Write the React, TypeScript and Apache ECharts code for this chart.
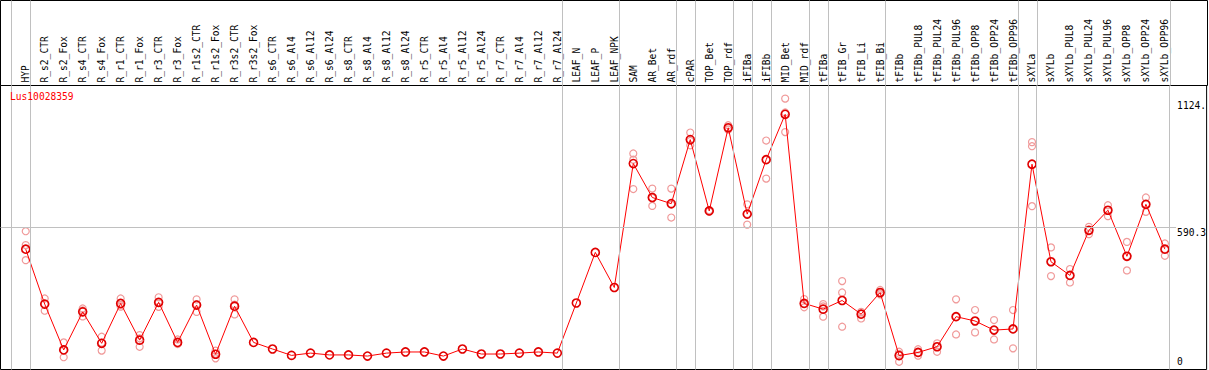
import React, { useEffect, useRef } from "react";
import * as echarts from "echarts";

const geneName = "Lus10028359";

const categories = [
  "HYP",
  "R_s2_CTR", "R_s2_Fox", "R_s4_CTR", "R_s4_Fox", "R_r1_CTR", "R_r1_Fox", "R_r3_CTR", "R_r3_Fox",
  "R_r1s2_CTR", "R_r1s2_Fox", "R_r3s2_CTR", "R_r3s2_Fox",
  "R_s6_CTR", "R_s6_Al4", "R_s6_Al12", "R_s6_Al24",
  "R_s8_CTR", "R_s8_Al4", "R_s8_Al12", "R_s8_Al24",
  "R_r5_CTR", "R_r5_Al4", "R_r5_Al12", "R_r5_Al24",
  "R_r7_CTR", "R_r7_Al4", "R_r7_Al12", "R_r7_Al24",
  "LEAF_N", "LEAF_P", "LEAF_NPK",
  "SAM", "AR_Bet", "AR_rdf", "cPAR", "TOP_Bet", "TOP_rdf", "iFIBa", "iFIBb", "MID_Bet", "MID_rdf",
  "tFIBa", "tFIB_Gr", "tFIB_Li", "tFIB_Bi",
  "tFIBb", "tFIBb_PUL8", "tFIBb_PUL24", "tFIBb_PUL96", "tFIBb_OPP8", "tFIBb_OPP24", "tFIBb_OPP96",
  "sXYLa", "sXYLb", "sXYLb_PUL8", "sXYLb_PUL24", "sXYLb_PUL96", "sXYLb_OPP8", "sXYLb_OPP24", "sXYLb_OPP96",
];

const means = [
  495,
  254, 53, 220, 82, 257, 96, 262, 86,
  250, 34, 245, 86,
  57, 29, 39, 31,
  31, 26, 39, 44,
  44, 26, 57, 35,
  35, 39, 44, 39,
  259, 481, 327,
  871, 722, 695, 976, 663, 1028, 649, 888, 1087, 257,
  232, 270, 210, 305,
  28, 42, 67, 199, 180, 140, 145,
  868, 440, 380, 578, 666, 464, 692, 495,
];

const rep1 = [
  574,
  279, 86, 235, 111, 279, 118, 284, 99,
  275, 50, 275, null,
  null, null, null, null,
  null, null, null, null,
  null, null, null, null,
  null, null, null, null,
  null, null, null,
  915, 761, 761, 1007, 666, 1039, 692, 972, 1156, 276,
  254, 355, 220, 316,
  45, 56, 82, 275, 228, 184, 228,
  965, 503, 408, 593, 688, 527, 722, 520,
];

const rep2 = [
  447,
  225, 21, 200, 50, 243, 67, 242, 79,
  220, 16, 209, null,
  null, null, null, null,
  null, null, null, null,
  null, null, null, null,
  null, null, null, null,
  null, null, null,
  759, 685, 634, 951, 660, 1020, 603, 805, 1009, 240,
  199, 155, 191, 297,
  1, 28, 45, 121, 130, 99, 60,
  684, 377, 349, 561, 640, 402, 659, 466,
];

const rep3 = [
  513,
  255, 52, 226, 85, 250, 104, 259, 81,
  254, 36, 252, null,
  null, null, null, null,
  null, null, null, null,
  null, null, null, null,
  null, null, null, null,
  null, null, null,
  888, 720, 690, 970, 663, 1026, 650, 888, 1095, 256,
  244, 305, 212, 302,
  36, 42, 67, 199, 180, 140, 145,
  947, 440, 380, 578, 666, 464, 692, 495,
];

// index of last category of each group (separator drawn just after it)
const groupEnds = [-1, 0, 28, 31, 34, 35, 37, 38, 39, 41, 42, 45, 52, 53, 60];

const yTickValues = [0, 590.3, 1124];
const yTickLabels = ["0", "590.3", "1124."];
const midLineValue = 590.3;

const FONT = "'DejaVu Sans Mono', 'Liberation Mono', monospace";
const FS = 9.6;
const X_MIN = -1.32895;
const X_MAX = 62.19737;
const Y_MIN = -32.92;
const Y_MAX = 1213.5;
const MID_LINE_END = 60.59;

export default function App() {
  const ref = useRef<HTMLDivElement>(null);

  useEffect(() => {
    if (!ref.current) return;
    const chart = echarts.init(ref.current, undefined, { renderer: "svg" });

    const repData: number[][] = [];
    [rep1, rep2, rep3].forEach((arr) => {
      arr.forEach((v, i) => {
        if (v !== null && v !== undefined) repData.push([i, v as number]);
      });
    });
    const meanData = means.map((v, i) => [i, v]);

    const markLineBase = {
      silent: true,
      symbol: ["none", "none"],
      label: { show: false },
      emphasis: { disabled: true },
      animation: false,
      lineStyle: { color: "#c0c0c0", width: 1, type: "solid" },
    };

    const option: any = {
      animation: false,
      title: {
        text: geneName,
        left: 10,
        top: 91,
        padding: 0,
        textStyle: { color: "#ff0000", fontSize: FS, fontFamily: FONT, fontWeight: "normal" },
      },
      grid: [
        { left: 0.5, right: 1.5, top: 85.5, bottom: 0.5, show: true, borderColor: "#000", borderWidth: 1, backgroundColor: "transparent" },
        { left: 0.5, right: 1.5, top: 0.5, height: 85, show: true, borderColor: "#000", borderWidth: 1, backgroundColor: "transparent" },
      ],
      xAxis: [
        {
          type: "value",
          gridIndex: 0,
          min: X_MIN,
          max: X_MAX,
          position: "top",
          axisLine: { show: false },
          axisTick: { show: false },
          splitLine: { show: false },
          axisLabel: {
            customValues: categories.map((_, i) => i),
            formatter: (v: number) => categories[Math.round(v)] ?? "",
            rotate: 90,
            margin: 3,
            fontFamily: FONT,
            fontSize: FS,
            color: "#000",
            hideOverlap: false,
          },
        },
        { type: "value", gridIndex: 1, min: X_MIN, max: X_MAX, show: false },
      ],
      yAxis: [
        {
          type: "value",
          gridIndex: 0,
          min: Y_MIN,
          max: Y_MAX,
          position: "right",
          axisLine: { show: false },
          axisTick: { show: false },
          splitLine: { show: false },
          axisLabel: {
            inside: true,
            customValues: yTickValues,
            formatter: (v: number) => {
              const idx = yTickValues.findIndex((t) => Math.abs(t - v) < 1e-6);
              const txt = idx >= 0 ? yTickLabels[idx] : "";
              return v === midLineValue ? `{low|${txt}}` : `{n|${txt}}`;
            },
            align: "left",
            margin: 29.5,
            verticalAlign: "middle",
            fontFamily: FONT,
            fontSize: FS,
            color: "#000",
            rich: {
              n: { fontFamily: FONT, fontSize: FS, color: "#000" },
              low: { fontFamily: FONT, fontSize: FS, color: "#000", padding: [10, 0, 0, 0] },
            },
          },
        },
        { type: "value", gridIndex: 1, min: 0, max: 1, show: false },
      ],
      series: [
        {
          type: "scatter",
          xAxisIndex: 0,
          yAxisIndex: 0,
          data: [],
          z: 1,
          silent: true,
          markLine: {
            ...markLineBase,
            data: [
              ...groupEnds.map((g) => ({ xAxis: g + 0.25 })),
              [{ coord: [X_MIN, midLineValue] }, { coord: [MID_LINE_END, midLineValue] }],
            ],
          },
        },
        {
          type: "scatter",
          xAxisIndex: 1,
          yAxisIndex: 1,
          data: [],
          z: 1,
          silent: true,
          markLine: {
            ...markLineBase,
            data: groupEnds.map((g) => ({ xAxis: g + 0.25 })),
          },
        },
        {
          type: "scatter",
          xAxisIndex: 0,
          yAxisIndex: 0,
          data: repData,
          symbol: "circle",
          symbolSize: 7,
          z: 2,
          silent: true,
          itemStyle: { color: "rgba(255,255,255,0)", borderColor: "#f09a9a", borderWidth: 1.2, opacity: 1 },
        },
        {
          type: "line",
          xAxisIndex: 0,
          yAxisIndex: 0,
          data: meanData,
          symbol: "circle",
          symbolSize: 8,
          z: 3,
          silent: true,
          lineStyle: { color: "#ff0000", width: 1 },
          itemStyle: { color: "rgba(255,255,255,0)", borderColor: "#e00000", borderWidth: 1.6 },
        },
      ],
    };

    chart.setOption(option);
    return () => chart.dispose();
  }, []);

  return (
    <div
      ref={ref}
      style={{ position: "absolute", left: 0, top: 0, width: 1209, height: 370 }}
    />
  );
}
